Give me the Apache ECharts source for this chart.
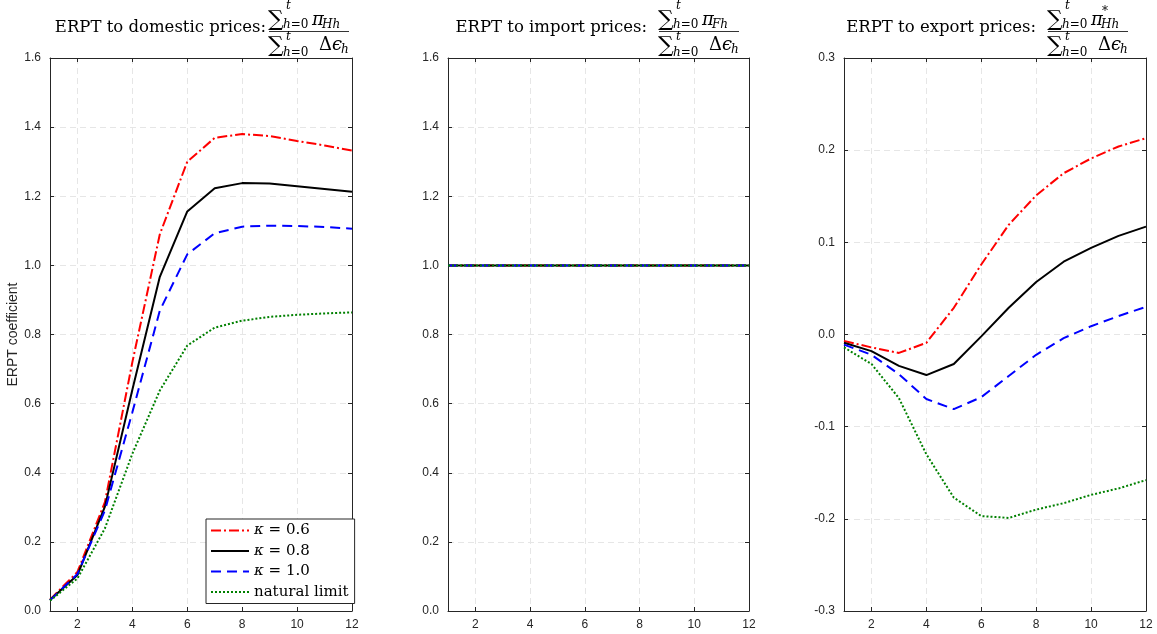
<!DOCTYPE html>
<html lang="en">
<head>
    <meta charset="UTF-8">
    <title>ERPT</title>
    <style>
        html, body { margin: 0; padding: 0; background: #fff; }
        #chart { width: 1157px; height: 634px; }
    </style>
</head>
<body>
<div id="chart"></div>
<script src="https://cdn.jsdelivr.net/npm/echarts@6/dist/echarts.min.js"></script>
<script>
    // horizon h = 1..12
    const horizon = [1, 2, 3, 4, 5, 6, 7, 8, 9, 10, 11, 12];

    const seriesNames = ['κ = 0.6', 'κ = 0.8', 'κ = 1.0', 'natural limit'];

    // ERPT to domestic prices
    const domK06 = [0.033, 0.113, 0.315, 0.720, 1.090, 1.300, 1.369, 1.380, 1.374, 1.360, 1.347, 1.332];
    const domK08 = [0.032, 0.104, 0.302, 0.640, 0.967, 1.156, 1.223, 1.238, 1.237, 1.229, 1.221, 1.213];
    const domK10 = [0.031, 0.107, 0.291, 0.575, 0.869, 1.032, 1.093, 1.112, 1.115, 1.114, 1.111, 1.106];
    const domNat = [0.030, 0.094, 0.239, 0.455, 0.638, 0.768, 0.820, 0.840, 0.851, 0.857, 0.861, 0.864];

    // ERPT to import prices
    const impK06 = [1.000, 1.000, 1.000, 1.000, 1.000, 1.000, 1.000, 1.000, 1.000, 1.000, 1.000, 1.000];
    const impK08 = [1.000, 1.000, 1.000, 1.000, 1.000, 1.000, 1.000, 1.000, 1.000, 1.000, 1.000, 1.000];
    const impK10 = [1.000, 1.000, 1.000, 1.000, 1.000, 1.000, 1.000, 1.000, 1.000, 1.000, 1.000, 1.000];
    const impNat = [1.000, 1.000, 1.000, 1.000, 1.000, 1.000, 1.000, 1.000, 1.000, 1.000, 1.000, 1.000];

    // ERPT to export prices
    const expK06 = [-0.007, -0.014, -0.020, -0.009, 0.029, 0.076, 0.119, 0.151, 0.175, 0.191, 0.204, 0.213];
    const expK08 = [-0.009, -0.018, -0.034, -0.044, -0.032, -0.002, 0.029, 0.057, 0.079, 0.094, 0.107, 0.117];
    const expK10 = [-0.011, -0.022, -0.043, -0.070, -0.081, -0.068, -0.045, -0.022, -0.004, 0.009, 0.020, 0.030];
    const expNat = [-0.014, -0.032, -0.069, -0.130, -0.177, -0.197, -0.199, -0.190, -0.183, -0.174, -0.167, -0.158];

    const panels = [
        {label: 'ERPT to domestic prices:', sub: 'Hh', star: false, textRight: 266, fracLeft: 269,
            ymin: 0, ymax: 1.6, step: 0.2, data: [domK06, domK08, domK10, domNat]},
        {label: 'ERPT to import prices:', sub: 'Fh', star: false, textRight: 647, fracLeft: 659,
            ymin: 0, ymax: 1.6, step: 0.2, data: [impK06, impK08, impK10, impNat]},
        {label: 'ERPT to export prices:', sub: 'Hh', star: true, textRight: 1036, fracLeft: 1048,
            ymin: -0.3, ymax: 0.3, step: 0.1, data: [expK06, expK08, expK10, expNat]}
    ];

    const lineLooks = [
        {color: '#ff0000', type: [10, 3, 2, 3]},
        {color: '#000000', type: 'solid'},
        {color: '#0000ff', type: [10, 6]},
        {color: '#008000', type: [2, 2]}
    ];

    const grids = [
        {left: 50, top: 58, width: 302, height: 553},
        {left: 448, top: 58, width: 301, height: 553},
        {left: 844, top: 58, width: 302, height: 553}
    ];

    const axisColor = '#262626';
    const sans = '"Liberation Sans", Arial, sans-serif';
    const serif = '"DejaVu Serif", serif';

    const xAxes = [], yAxes = [], series = [], graphics = [];

    function txt(x, y, text, style) {
        return {type: 'text', x: x, y: y, silent: true,
            style: Object.assign({text: text, verticalAlign: 'middle', textVerticalAlign: 'middle',
                fontFamily: serif, fill: '#000'}, style)};
    }

    panels.forEach(function (p, i) {
        xAxes.push({
            type: 'value', gridIndex: i, min: 1, max: 12, position: 'bottom',
            axisLine: {onZero: false, lineStyle: {color: axisColor, width: 1}},
            axisTick: {inside: true, length: 4, lineStyle: {color: axisColor}},
            axisLabel: {color: axisColor, fontFamily: sans, fontSize: 12, margin: 8, showMinLabel: false},
            splitLine: {show: true, lineStyle: {color: '#e6e6e6', type: [6, 4]}}
        });
        xAxes.push({
            type: 'value', gridIndex: i, min: 1, max: 12, position: 'top',
            axisLine: {onZero: false, lineStyle: {color: axisColor, width: 1}},
            axisTick: {inside: true, length: 4, lineStyle: {color: axisColor}},
            axisLabel: {show: false}, splitLine: {show: false}
        });
        yAxes.push({
            type: 'value', gridIndex: i, min: p.ymin, max: p.ymax, interval: p.step, position: 'left',
            name: i === 0 ? 'ERPT coefficient' : '', nameLocation: 'middle', nameGap: 24,
            nameTextStyle: {color: axisColor, fontFamily: sans, fontSize: 14},
            axisLine: {show: true, onZero: false, lineStyle: {color: axisColor, width: 1}},
            axisTick: {show: true, inside: true, length: 4, lineStyle: {color: axisColor}},
            axisLabel: {color: axisColor, fontFamily: sans, fontSize: 12, margin: 9,
                formatter: function (v) { return v.toFixed(1); }},
            splitLine: {show: true, lineStyle: {color: '#e6e6e6', type: [6, 4]}}
        });
        yAxes.push({
            type: 'value', gridIndex: i, min: p.ymin, max: p.ymax, interval: p.step, position: 'right',
            axisLine: {show: true, onZero: false, lineStyle: {color: axisColor, width: 1}},
            axisTick: {show: true, inside: true, length: 4, lineStyle: {color: axisColor}},
            axisLabel: {show: false}, splitLine: {show: false}
        });

        p.data.forEach(function (vals, k) {
            series.push({
                name: seriesNames[k], type: 'line',
                xAxisIndex: i * 2, yAxisIndex: i * 2,
                data: horizon.map(function (h, j) { return [h, vals[j]]; }),
                symbol: 'none', silent: true,
                lineStyle: {color: lineLooks[k].color, width: 2, type: lineLooks[k].type, cap: 'butt'},
                itemStyle: {color: lineLooks[k].color}
            });
        });

        // title text + fraction
        const fx = p.fracLeft;
        const it = {fontStyle: 'italic'};
        graphics.push(txt(p.textRight, 28, p.label,
            {align: 'right', textAlign: 'right', fontSize: 16.5}));
        [[20, 6, 25], [46, 37, 53]].forEach(function (row) {
            graphics.push(txt(fx - 1, row[0], '∑', {fontSize: 22}));
            graphics.push(txt(fx + 17, row[1], 't', Object.assign({fontSize: 12}, it)));
            graphics.push(txt(fx + 14, row[2], '{i|h}=0',
                {fontSize: 12, rich: {i: {fontSize: 12, fontFamily: serif, fontStyle: 'italic'}}}));
        });
        graphics.push(txt(fx + 43, 20, 'π', Object.assign({fontSize: 18}, it)));
        if (p.star) {
            graphics.push(txt(fx + 54, 12, '*', {fontSize: 12}));
        }
        graphics.push(txt(fx + 53, 25, p.sub, Object.assign({fontSize: 12}, it)));
        graphics.push({type: 'line', silent: true, shape: {x1: fx, y1: 31.5, x2: fx + 80, y2: 31.5},
            style: {stroke: '#000', lineWidth: 0.8}});
        graphics.push(txt(fx + 50, 45, 'Δ{i|ϵ}',
            {fontSize: 18, rich: {i: {fontSize: 18, fontFamily: serif, fontStyle: 'italic'}}}));
        graphics.push(txt(fx + 72, 50, 'h', Object.assign({fontSize: 12}, it)));
    });

    const chart = echarts.init(document.getElementById('chart'));
    chart.setOption({
        animation: false,
        backgroundColor: '#fff',
        grid: grids,
        xAxis: xAxes,
        yAxis: yAxes,
        series: series,
        graphic: graphics,
        legend: {
            data: seriesNames,
            orient: 'vertical', left: 206, top: 519,
            itemWidth: 38, itemHeight: 14, itemGap: 5.5,
            padding: [4, 6, 4, 4],
            backgroundColor: '#fff', borderColor: axisColor, borderWidth: 1,
            selectedMode: false,
            itemStyle: {opacity: 0},
            formatter: function (name) {
                return name.charAt(0) === 'κ' ? '{k|κ}' + name.slice(1) : name;
            },
            textStyle: {
                color: '#000', fontFamily: serif, fontSize: 15,
                rich: {k: {color: '#000', fontFamily: serif, fontSize: 15, fontStyle: 'italic'}}
            }
        }
    });
</script>
</body>
</html>
